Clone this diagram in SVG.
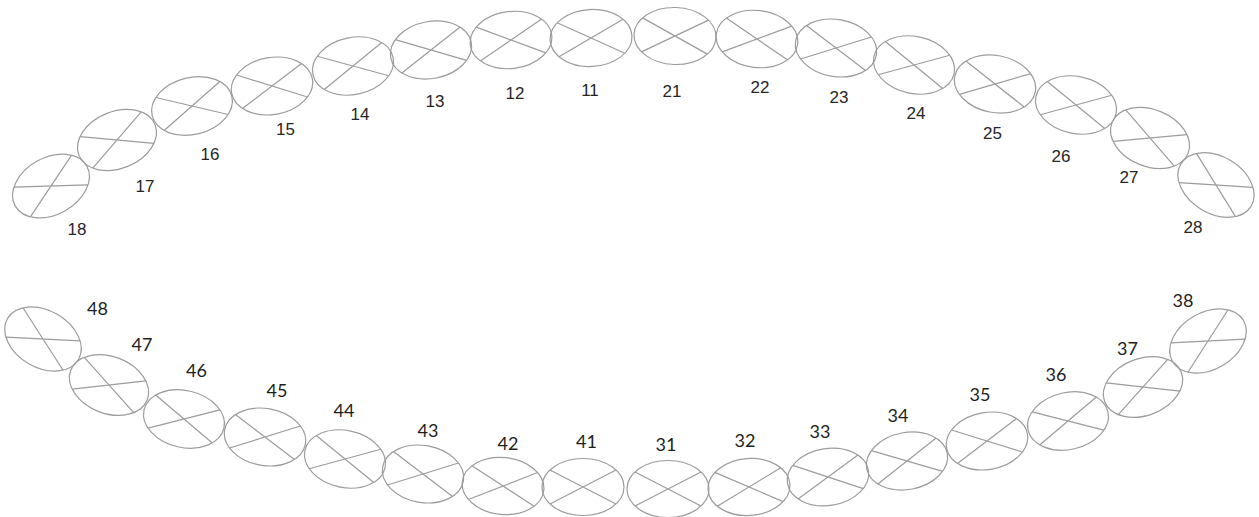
<svg xmlns="http://www.w3.org/2000/svg" xmlns:xlink="http://www.w3.org/1999/xlink" width="1259" height="517" viewBox="0 0 1259 517">
<style>
.t ellipse, .t path { fill: none; stroke: #9c9c9c; stroke-width: 1.2; }
.u { font-family: "Liberation Sans", Arial, sans-serif; font-size: 17px; fill: #262626; text-anchor: middle; }
.l { font-family: Lato, "Open Sans", sans-serif; font-size: 18px; fill: #1e1e1e; text-anchor: middle; }
</style>
<defs>
<g id="tooth" class="t">
<ellipse cx="0" cy="0" rx="41" ry="28.5"/>
<path d="M-33,-17 L33,17 M-33,17 L33,-17"/>
</g>
</defs>
<rect width="1259" height="517" fill="#fff"/>
<g id="upper">
<g id="t18"><use xlink:href="#tooth" transform="translate(51,186) rotate(-29)"/><text class="u" x="77" y="234.5">18</text></g>
<g id="t17"><use xlink:href="#tooth" transform="translate(117,140) rotate(-22)"/><text class="u" x="145" y="191.5">17</text></g>
<g id="t16"><use xlink:href="#tooth" transform="translate(192,106) rotate(-14)"/><text class="u" x="210" y="159.5">16</text></g>
<g id="t15"><use xlink:href="#tooth" transform="translate(272,86) rotate(-10)"/><text class="u" x="285.5" y="135">15</text></g>
<g id="t14"><use xlink:href="#tooth" transform="translate(353,66) rotate(-12)"/><text class="u" x="360" y="120">14</text></g>
<g id="t13"><use xlink:href="#tooth" transform="translate(431,50) rotate(-11)"/><text class="u" x="435" y="107">13</text></g>
<g id="t12"><use xlink:href="#tooth" transform="translate(511,40) rotate(-7)"/><text class="u" x="515" y="99">12</text></g>
<g id="t11"><use xlink:href="#tooth" transform="translate(591,38) rotate(-3)"/><text class="u" x="590" y="96">11</text></g>
<g id="t21"><use xlink:href="#tooth" transform="translate(675,36) rotate(2)"/><text class="u" x="672" y="97">21</text></g>
<g id="t22"><use xlink:href="#tooth" transform="translate(757,39) rotate(7)"/><text class="u" x="760" y="93">22</text></g>
<g id="t23"><use xlink:href="#tooth" transform="translate(836,48) rotate(10)"/><text class="u" x="839" y="103">23</text></g>
<g id="t24"><use xlink:href="#tooth" transform="translate(914,65) rotate(12)"/><text class="u" x="916" y="119">24</text></g>
<g id="t25"><use xlink:href="#tooth" transform="translate(995,84) rotate(11)"/><text class="u" x="992.5" y="139">25</text></g>
<g id="t26"><use xlink:href="#tooth" transform="translate(1076,105) rotate(12)"/><text class="u" x="1061" y="162">26</text></g>
<g id="t27"><use xlink:href="#tooth" transform="translate(1150,138) rotate(22)"/><text class="u" x="1129" y="183">27</text></g>
<g id="t28"><use xlink:href="#tooth" transform="translate(1216,185) rotate(31)"/><text class="u" x="1193" y="233">28</text></g>
</g>
<g id="lower">
<g id="t48"><use xlink:href="#tooth" transform="translate(43,339) rotate(30)"/><text class="l" x="97.5" y="315">48</text></g>
<g id="t47"><use xlink:href="#tooth" transform="translate(109,385) rotate(21)"/><text class="l" x="142" y="350.5">47</text></g>
<g id="t46"><use xlink:href="#tooth" transform="translate(184,419) rotate(13)"/><text class="l" x="196.5" y="376.5">46</text></g>
<g id="t45"><use xlink:href="#tooth" transform="translate(265,437) rotate(10)"/><text class="l" x="277" y="397">45</text></g>
<g id="t44"><use xlink:href="#tooth" transform="translate(345,459) rotate(12)"/><text class="l" x="344" y="417">44</text></g>
<g id="t43"><use xlink:href="#tooth" transform="translate(423,474) rotate(10)"/><text class="l" x="428" y="436.5">43</text></g>
<g id="t42"><use xlink:href="#tooth" transform="translate(503,486) rotate(6)"/><text class="l" x="508" y="449.5">42</text></g>
<g id="t41"><use xlink:href="#tooth" transform="translate(583,487) rotate(0)"/><text class="l" x="586.5" y="448">41</text></g>
<g id="t31"><use xlink:href="#tooth" transform="translate(668,489) rotate(0)"/><text class="l" x="666" y="451">31</text></g>
<g id="t32"><use xlink:href="#tooth" transform="translate(749,487) rotate(-4)"/><text class="l" x="745" y="446.5">32</text></g>
<g id="t33"><use xlink:href="#tooth" transform="translate(828,477) rotate(-9)"/><text class="l" x="820" y="437.5">33</text></g>
<g id="t34"><use xlink:href="#tooth" transform="translate(907,461) rotate(-11)"/><text class="l" x="898" y="421.5">34</text></g>
<g id="t35"><use xlink:href="#tooth" transform="translate(987,441) rotate(-10)"/><text class="l" x="980" y="401">35</text></g>
<g id="t36"><use xlink:href="#tooth" transform="translate(1068,421) rotate(-13)"/><text class="l" x="1056" y="380.5">36</text></g>
<g id="t37"><use xlink:href="#tooth" transform="translate(1143,387) rotate(-21)"/><text class="l" x="1127.5" y="355">37</text></g>
<g id="t38"><use xlink:href="#tooth" transform="translate(1208,341) rotate(-30)"/><text class="l" x="1183" y="306.5">38</text></g>
</g>
<g id="connectors"/>
</svg>
